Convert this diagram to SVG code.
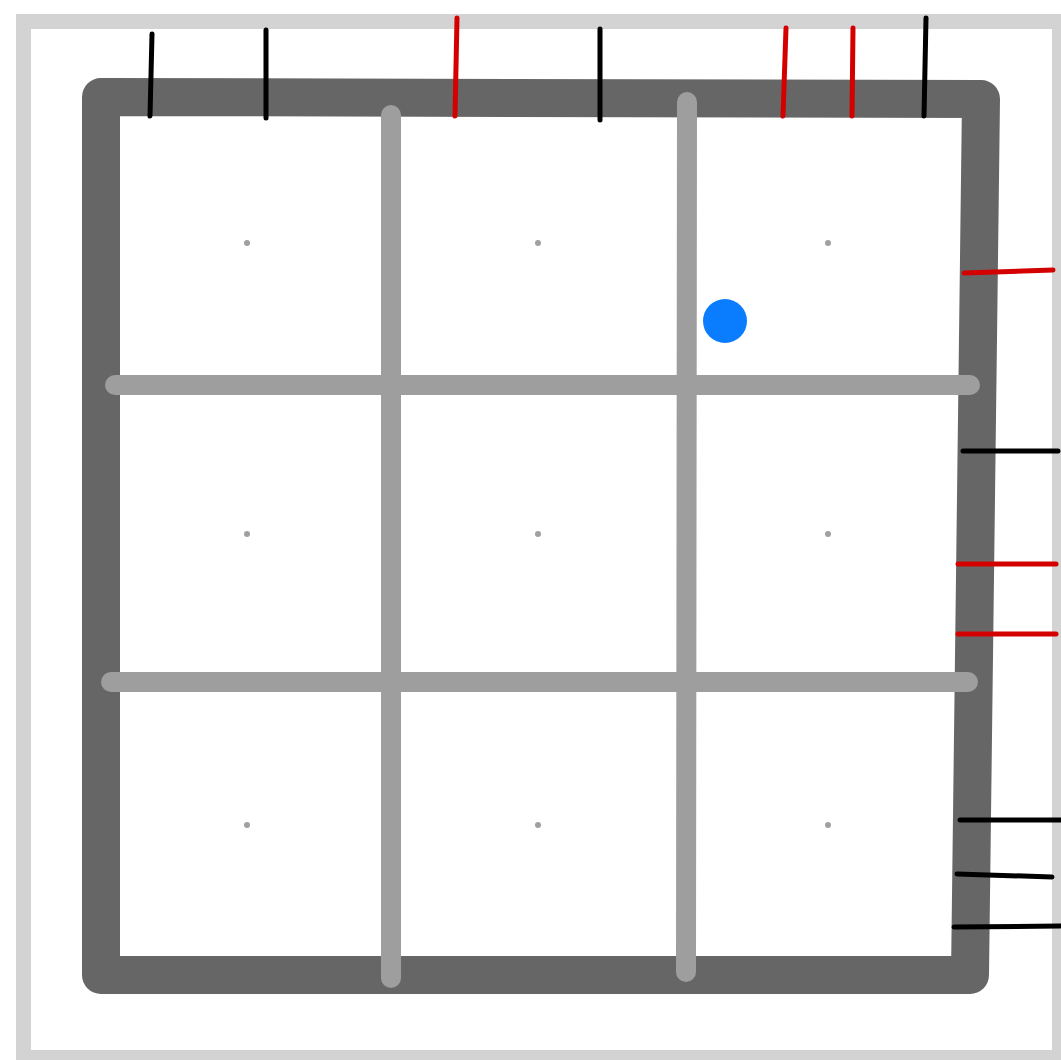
<svg xmlns="http://www.w3.org/2000/svg" width="1061" height="1060" viewBox="0 0 1061 1060">
  <style>
    .wall { fill: none; stroke: #666666; stroke-width: 38; stroke-linejoin: round; }
    .grid { fill: none; stroke: #9e9e9e; stroke-width: 20; stroke-linecap: round; }
    .dot { fill: #a0a0a0; }
    .tk { fill: none; stroke: #000000; stroke-width: 5; stroke-linecap: round; }
    .tr { fill: none; stroke: #d40000; stroke-width: 5; stroke-linecap: round; }
  </style>
  <rect x="0" y="0" width="1061" height="1060" fill="#ffffff"/>
  <g id="border">
    <rect x="23.5" y="21.5" width="1036" height="1036" fill="#ffffff" stroke="#d3d3d3" stroke-width="15"/>
  </g>
  <g id="frame">
    <polygon class="wall" points="101,97 981,99 970,975 101,975" fill="#ffffff"/>
  </g>
  <g id="grid">
    <line class="grid" x1="391" y1="115" x2="391" y2="978"/>
    <line class="grid" x1="687" y1="102" x2="686" y2="972"/>
    <line class="grid" x1="115" y1="385" x2="970" y2="385"/>
    <line class="grid" x1="111" y1="682" x2="968" y2="682"/>
  </g>
  <g id="centers">
    <circle class="dot" cx="247" cy="243" r="3"/>
    <circle class="dot" cx="538" cy="243" r="3"/>
    <circle class="dot" cx="828" cy="243" r="3"/>
    <circle class="dot" cx="247" cy="534" r="3"/>
    <circle class="dot" cx="538" cy="534" r="3"/>
    <circle class="dot" cx="828" cy="534" r="3"/>
    <circle class="dot" cx="247" cy="825" r="3"/>
    <circle class="dot" cx="538" cy="825" r="3"/>
    <circle class="dot" cx="828" cy="825" r="3"/>
  </g>
  <g id="marker">
    <circle cx="725" cy="321" r="22" fill="#0a7dff"/>
  </g>
  <g id="connectors">
    <line class="tk" x1="152" y1="34" x2="150" y2="116"/>
    <line class="tk" x1="266" y1="30" x2="266" y2="118"/>
    <line class="tr" x1="457" y1="18" x2="455" y2="116"/>
    <line class="tk" x1="600" y1="29" x2="600" y2="120"/>
    <line class="tr" x1="786" y1="28" x2="783" y2="116"/>
    <line class="tr" x1="853" y1="28" x2="852" y2="116"/>
    <line class="tk" x1="926" y1="18" x2="924" y2="116"/>
    <line class="tr" x1="964" y1="273" x2="1053" y2="270"/>
    <line class="tk" x1="963" y1="451" x2="1058" y2="451"/>
    <line class="tr" x1="958" y1="564" x2="1056" y2="564"/>
    <line class="tr" x1="958" y1="634" x2="1056" y2="634"/>
    <line class="tk" x1="960" y1="820" x2="1061" y2="820"/>
    <line class="tk" x1="957" y1="874" x2="1052" y2="877"/>
    <line class="tk" x1="954" y1="927" x2="1060" y2="926"/>
  </g>
</svg>
